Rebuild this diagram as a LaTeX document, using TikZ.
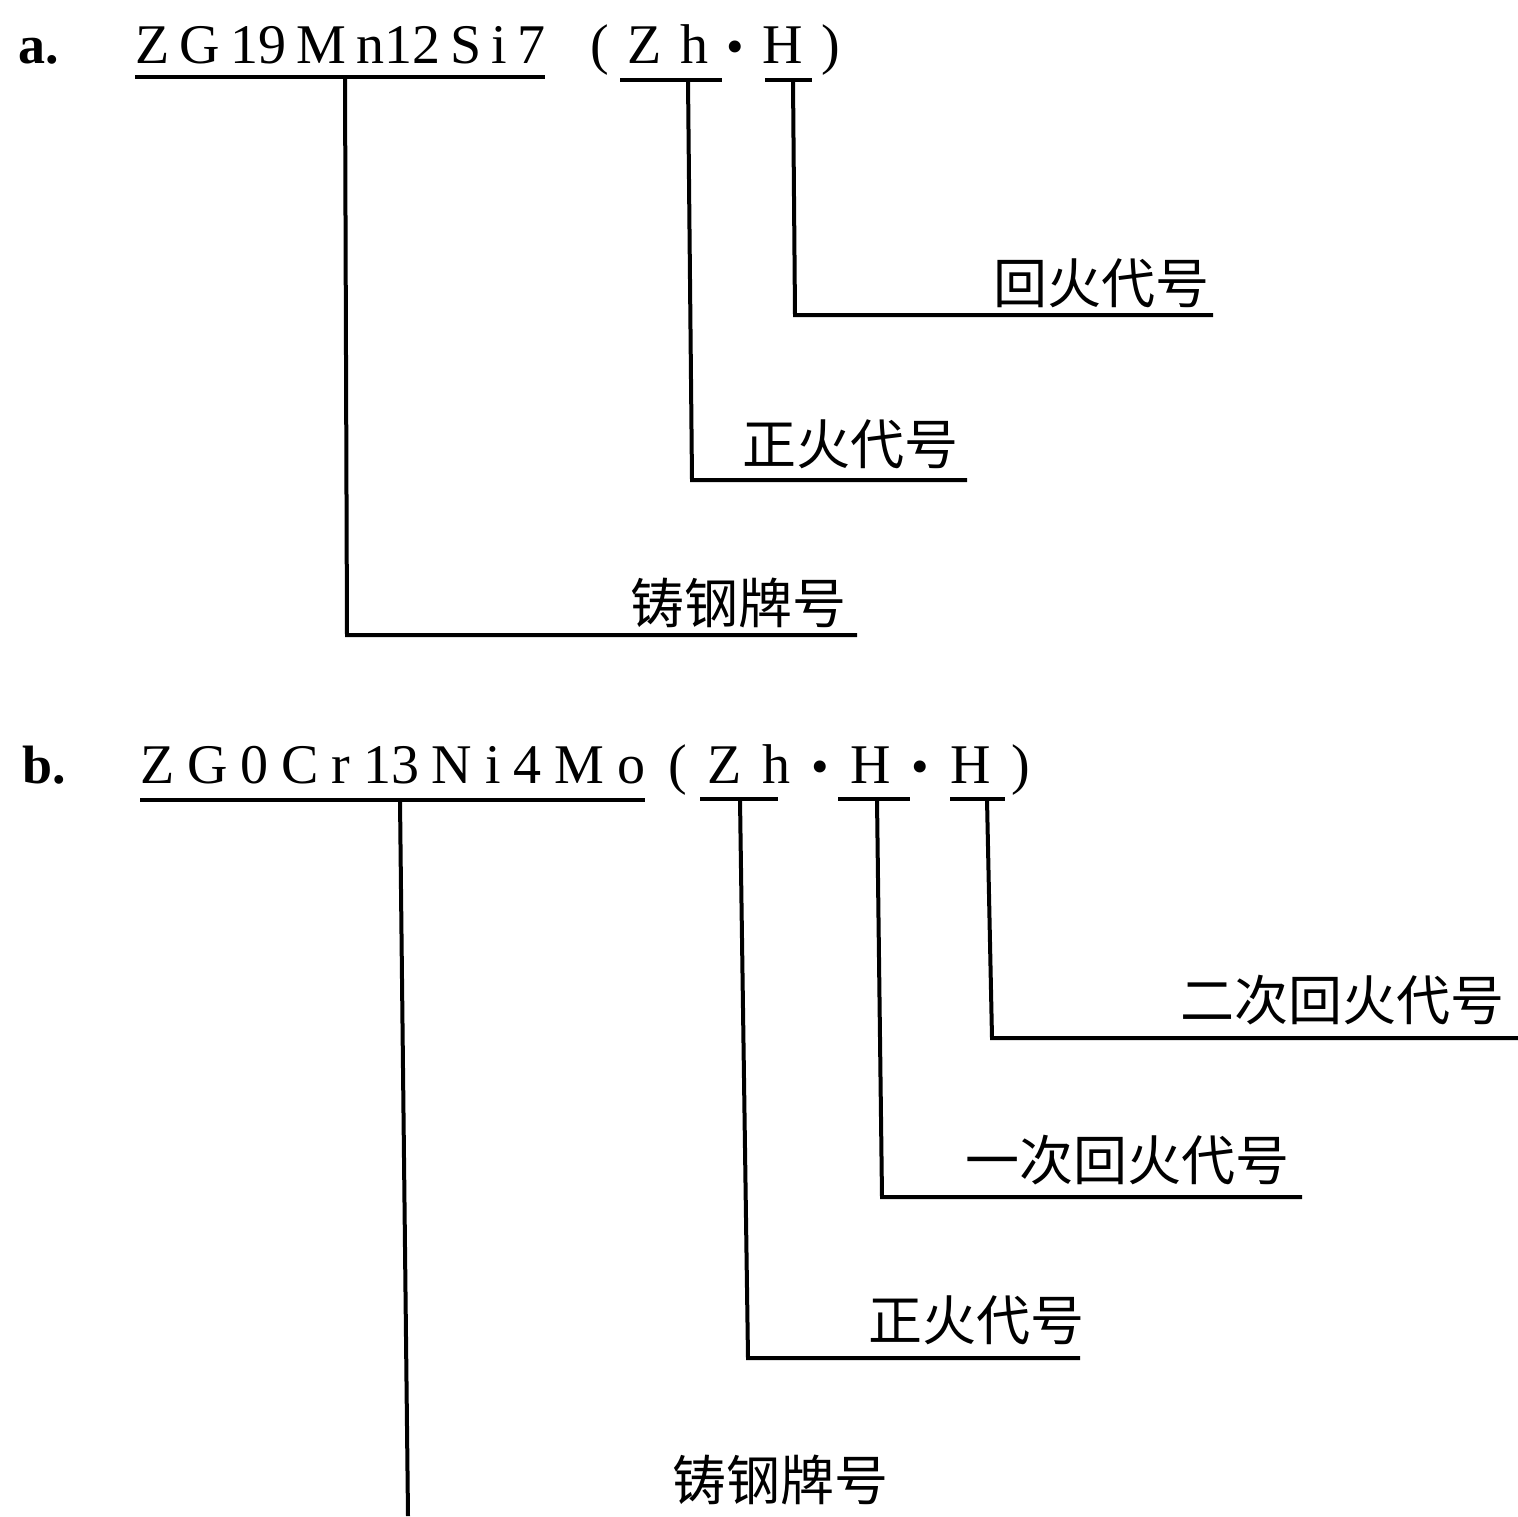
\documentclass[tikz,border=0pt]{standalone}
\usepackage{fontspec}
\setmainfont{Liberation Serif}
\newfontfamily\cjk{Noto Sans CJK SC}
\newcommand{\bdot}{{\fontsize{50}{50}\selectfont\textbullet}}
\begin{document}
\begin{tikzpicture}[x=1pt,y=-1pt,
  ln/.style={line width=4pt},
  lat/.style={anchor=base west, inner sep=0pt, font=\fontsize{56}{56}\selectfont},
  lab/.style={anchor=base west, inner sep=0pt, font=\bfseries\fontsize{54}{54}\selectfont},
  cn/.style={anchor=west, inner sep=0pt, font=\cjk\fontsize{54}{54}\selectfont}]
\useasboundingbox (0,0) rectangle (1518,1516);

% ---------- a ----------
\node[lab] (la) at (18,63) {a.};
\node[lat] (ga) at (135,63) {\makebox[410pt][s]{Z\hfill G\hfill 19\hfill M\hfill n12\hfill S\hfill i\hfill 7}};
\node[lat] (pa) at (590,63) {\makebox[250pt][s]{(\hfill Z\hfill h\hfill \bdot\hfill H\hfill )}};
\draw[ln] (135,77) -- (545,77);
\draw[ln] (620,80) -- (722,80);
\draw[ln] (765,80) -- (812,80);

\node[cn] (ta1) at (993,283) {回火代号};
\node[cn] (ta2) at (742,444) {正火代号};
\node[cn] (ta3) at (630,603) {铸钢牌号};

\coordinate (a1t) at (793,80);  \coordinate (a1b) at (795,315); \coordinate (a1e) at (1213,315);
\coordinate (a2t) at (688,80);  \coordinate (a2b) at (692,480); \coordinate (a2e) at (967,480);
\coordinate (a3t) at (345,77);  \coordinate (a3b) at (347,635); \coordinate (a3e) at (857,635);
\draw[ln] (a1t) -- (a1b) -- (a1e);
\draw[ln] (a2t) -- (a2b) -- (a2e);
\draw[ln] (a3t) -- (a3b) -- (a3e);

% ---------- b ----------
\node[lab] (lb) at (22,783) {b.};
\node[lat] (gb) at (140,783) {\makebox[505pt][s]{Z\hfill G\hfill 0\hfill C\hfill r\hfill 13\hfill N\hfill i\hfill 4\hfill M\hfill o}};
\node[lat] (pb) at (668,783) {\makebox[362pt][s]{(\hfill Z\hfill h\hfill \bdot\hfill H\hfill \bdot\hfill H\hfill )}};
\draw[ln] (140,800) -- (645,800);
\draw[ln] (700,799) -- (778,799);
\draw[ln] (838,799) -- (910,799);
\draw[ln] (950,799) -- (1005,799);

\node[cn] (tb1) at (1180,1000) {二次回火代号};
\node[cn] (tb2) at (965,1160) {一次回火代号};
\node[cn] (tb3) at (868,1320) {正火代号};
\node[cn] (tb4) at (672,1480) {铸钢牌号};

\coordinate (b1t) at (987,799);  \coordinate (b1b) at (992,1038); \coordinate (b1e) at (1518,1038);
\coordinate (b2t) at (877,799);  \coordinate (b2b) at (882,1197); \coordinate (b2e) at (1302,1197);
\coordinate (b3t) at (740,799);  \coordinate (b3b) at (748,1358); \coordinate (b3e) at (1080,1358);
\coordinate (b4t) at (400,800);  \coordinate (b4b) at (408,1516);
\draw[ln] (b1t) -- (b1b) -- (b1e);
\draw[ln] (b2t) -- (b2b) -- (b2e);
\draw[ln] (b3t) -- (b3b) -- (b3e);
\draw[ln] (b4t) -- (b4b);
\end{tikzpicture}
\end{document}
